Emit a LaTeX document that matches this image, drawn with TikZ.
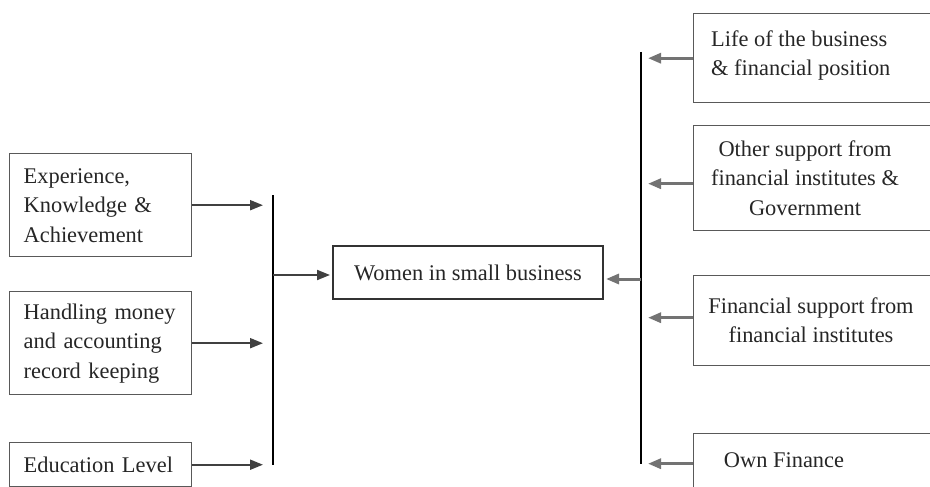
\documentclass[tikz,border=0pt]{standalone}
\usepackage{fontspec}
\setmainfont{Liberation Serif}
\usetikzlibrary{arrows.meta}

\begin{document}
\begin{tikzpicture}[x=1pt,y=-1pt,>={Triangle[length=13pt,width=10pt]},
  txt/.style={font=\fontsize{22.4}{29.5}\selectfont,text=black!85},
  lbox/.style={txt,draw=black!65,line width=1.4pt,anchor=north west,
    text width=154pt,inner xsep=14pt,inner ysep=0pt,align=left},
  rbox/.style={draw=black!65,line width=1.4pt,anchor=north west,minimum width=280pt},
  rlabel/.style={txt,inner sep=0pt,align=center},
  larr/.style={->,draw=black!75,line width=2pt},
  rarr/.style={->,draw=black!55,line width=3pt},
  bar/.style={line width=1.8pt}]
  \useasboundingbox (0,0) rectangle (930,487);
  \clip (0,0) rectangle (930,487);

  % factors on the left
  \node[lbox,minimum height=103pt] (exp) at (9,153) {Experience,\\Knowledge \&\\Achievement};
  \node[lbox,minimum height=103pt] (money) at (9,291) {Handling money\\and accounting\\record keeping};
  \node[lbox,minimum height=44pt] (edu) at (9,442) {Education Level};

  \coordinate (lbtop) at (273,195);
  \coordinate (lbbot) at (273,465);
  \coordinate (lbmid) at (273,275);
  \draw[bar] (lbtop) -- (lbbot);
  \foreach \n in {exp,money,edu}{
    \draw[larr,shorten >=10pt] (\n.east) -- (\n.east -| lbtop);
  }

  % centre
  \node[txt,draw=black!80,line width=2pt,minimum width=270pt,minimum height=53pt] (women) at (468,272.5) {Women in small business};
  \draw[larr,shorten >=2pt] (lbmid) -- (lbmid -| women.west);

  % finance on the right
  \node[rbox,minimum height=89pt] (life) at (693,13) {};
  \node[rbox,minimum height=105pt] (other) at (693,125) {};
  \node[rbox,minimum height=90pt] (inst) at (693,275) {};
  \node[rbox,minimum height=70pt] (own) at (693,433) {};

  \node[rlabel,anchor=west,align=left] (lifetxt) at (711,55.5) {Life of the business\\\& financial position};
  \node[rlabel] (othertxt) at (805,178) {Other support from\\financial institutes \&\\Government};
  \node[rlabel] (insttxt) at (811,320) {Financial support from\\financial institutes};
  \node[rlabel] (owntxt) at (784,460.5) {Own Finance};

  \coordinate (rbtop) at (641,52);
  \coordinate (rbbot) at (641,464);
  \coordinate (rbmid) at (641,279);
  \draw[bar] (rbtop) -- (rbbot);
  \draw[rarr,shorten >=7pt] (life.west) -- (life.west -| rbtop);
  \draw[rarr,shorten >=7pt] ([yshift=-5.5pt]other.west) -- ([yshift=-5.5pt]other.west -| rbtop);
  \draw[rarr,shorten >=7pt] ([yshift=3pt]inst.west) -- ([yshift=3pt]inst.west -| rbtop);
  \draw[rarr,shorten >=7pt] ([yshift=5pt]own.west) -- ([yshift=5pt]own.west -| rbtop);
  \draw[rarr,shorten >=2pt] (rbmid) -- (rbmid -| women.east);
\end{tikzpicture}
\end{document}
